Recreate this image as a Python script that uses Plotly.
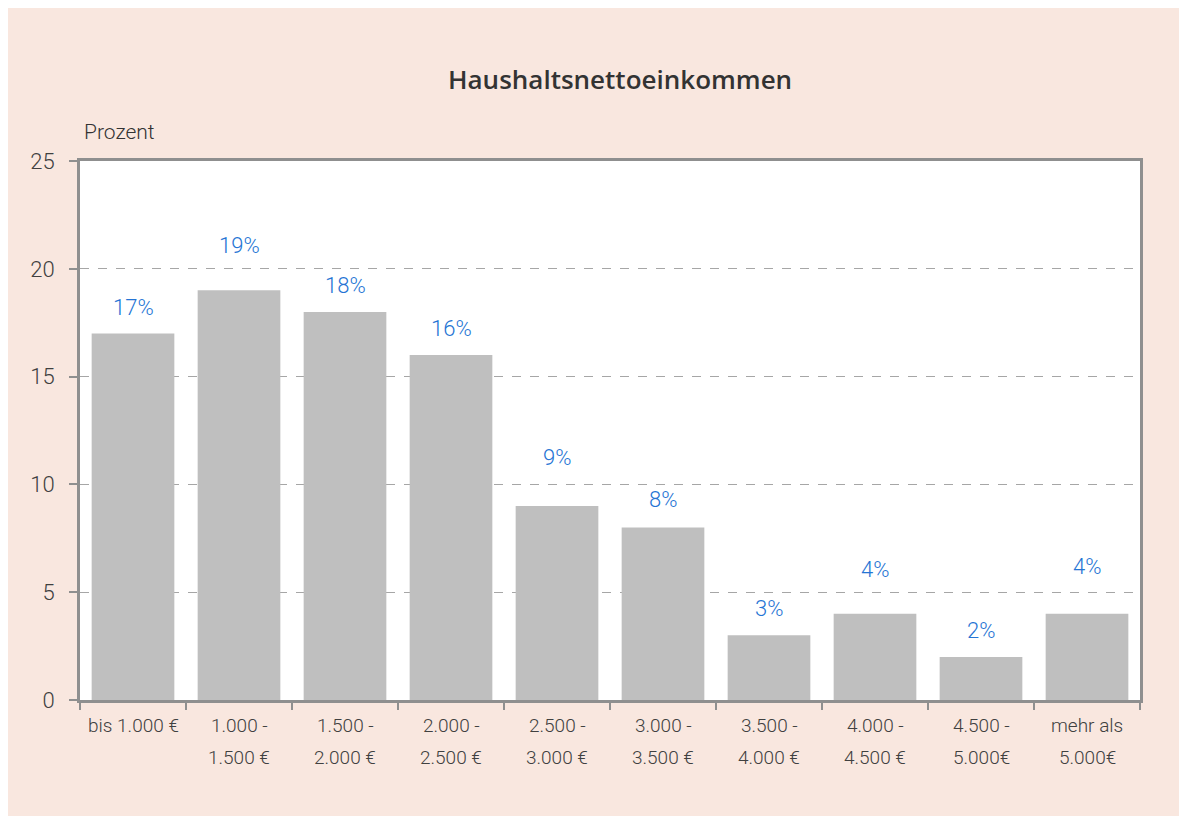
import plotly.graph_objects as go

categories = ["bis 1.000 €", "1.000 -<br>1.500 €", "1.500 -<br>2.000 €", "2.000 -<br>2.500 €",
              "2.500 -<br>3.000 €", "3.000 -<br>3.500 €", "3.500 -<br>4.000 €", "4.000 -<br>4.500 €",
              "4.500 -<br>5.000€", "mehr als<br>5.000€"]
values = [17, 19, 18, 16, 9, 8, 3, 4, 2, 4]
labels = ["17%", "19%", "18%", "16%", "9%", "8%", "3%", "4%", "2%", "4%"]
y_ticks = [0, 5, 10, 15, 20, 25]

FONT = "Roboto, sans-serif"
PEACH = "#F9E7DF"
label_shift = [26, 45, 26, 27, 48, 28, 27, 44, 26, 47]

fig = go.Figure()
fig.add_trace(go.Bar(x=categories, y=values, marker=dict(color="#BFBFBF", line=dict(width=0)),
                     width=0.78, hoverinfo="skip"))

for c, v, t, s in zip(categories, values, labels, label_shift):
    fig.add_annotation(x=c, y=v, text=t, showarrow=False, yshift=s,
                       font=dict(family=FONT, size=22, color="#2574D4", weight=300))

# category labels (two lines each) below the axis
for c in categories:
    parts = c.split("<br>")
    for i, p in enumerate(parts):
        fig.add_annotation(x=c, xref="x", yref="paper", y=0, yanchor="middle", yshift=-25 - 32 * i,
                           text=p, showarrow=False,
                           font=dict(family=FONT, size=19, color="#404040", weight=300))

fig.add_annotation(xref="paper", yref="paper", x=0.509, y=1.153, yanchor="middle",
                   text="Haushaltsnettoeinkommen", showarrow=False,
                   font=dict(family="Open Sans, sans-serif", size=26, color="#333333", weight=600))
fig.add_annotation(xref="paper", yref="paper", x=0.002, y=1.0538, xanchor="left", yanchor="middle",
                   text="Prozent", showarrow=False,
                   font=dict(family=FONT, size=21, color="#333333", weight=300))

fig.update_layout(
    width=1179, height=808,
    margin=dict(l=72, r=47, t=153, b=116),
    paper_bgcolor=PEACH, plot_bgcolor="white",
    showlegend=False, bargap=0.22,
    xaxis=dict(showline=True, linecolor="#8F8F8F", linewidth=3, mirror=True,
               ticks="outside", tickson="boundaries", ticklen=7, tickwidth=2, tickcolor="#8F8F8F",
               showticklabels=False, showgrid=False),
    yaxis=dict(range=[0, 25], tickvals=y_ticks, showline=True, linecolor="#8F8F8F", linewidth=3,
               mirror=True, ticks="outside", ticklen=8, tickwidth=2, tickcolor="#8F8F8F",
               ticklabelstandoff=10,
               tickfont=dict(family=FONT, size=22, color="#404040", weight=300),
               showgrid=True, gridcolor="#A6A6A6", griddash="dash", gridwidth=1, zeroline=False),
)

fig.write_html("out.html")
